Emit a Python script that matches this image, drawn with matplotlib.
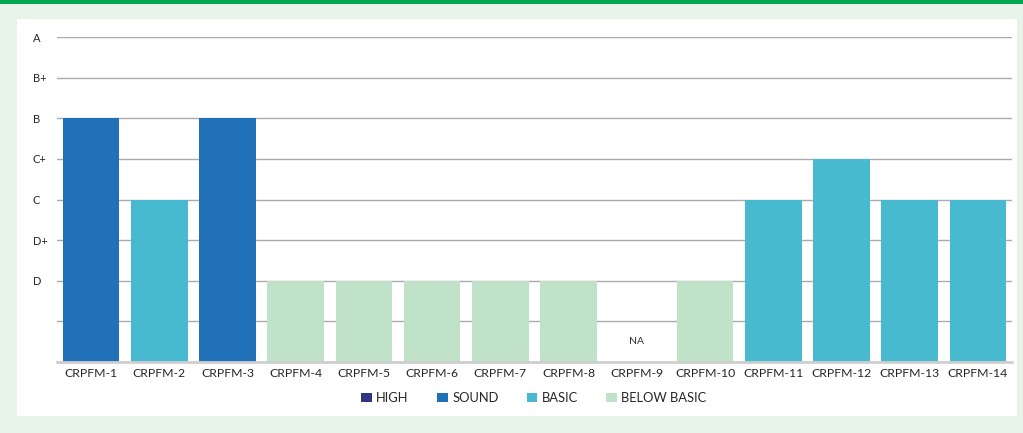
import matplotlib
matplotlib.use("Agg")
import matplotlib.pyplot as plt
from matplotlib.patches import Rectangle, Patch

plt.rcParams['font.family'] = ['Lato', 'DejaVu Sans']

categories = ["CRPFM-1", "CRPFM-2", "CRPFM-3", "CRPFM-4", "CRPFM-5", "CRPFM-6", "CRPFM-7",
              "CRPFM-8", "CRPFM-9", "CRPFM-10", "CRPFM-11", "CRPFM-12", "CRPFM-13", "CRPFM-14"]
# grade levels: 2=D, 3=D+, 4=C, 5=C+, 6=B, 7=B+, 8=A ; None = not available
scores = [6, 4, 6, 2, 2, 2, 2, 2, None, 2, 4, 5, 4, 4]
ratings = ["SOUND", "BASIC", "SOUND", "BELOW BASIC", "BELOW BASIC", "BELOW BASIC", "BELOW BASIC",
           "BELOW BASIC", None, "BELOW BASIC", "BASIC", "BASIC", "BASIC", "BASIC"]
grade_ticks = [0, 1, 2, 3, 4, 5, 6, 7, 8]
grade_labels = ["", "", "D", "D+", "C", "C+", "B", "B+", "A"]
legend_names = ["HIGH", "SOUND", "BASIC", "BELOW BASIC"]
palette = {"HIGH": "#2E3582", "SOUND": "#2171B9", "BASIC": "#47BACF", "BELOW BASIC": "#C0E2C9"}

W, H = 1023, 433
fig = plt.figure(figsize=(W / 100, H / 100), dpi=100, facecolor="#E8F3EA")

# white panel and green header strip
fig.patches.append(Rectangle((17 / W, 1 - 416 / H), 1000 / W, 397 / H,
                             transform=fig.transFigure, facecolor="white", edgecolor="none", zorder=-2))
fig.patches.append(Rectangle((0, 1 - 4 / H), 1, 4 / H,
                             transform=fig.transFigure, facecolor="#00A651", edgecolor="none", zorder=-2))

ax = fig.add_axes([57 / W, 1 - 362 / H, 955 / W, 325 / H])
ax.set_facecolor("none")

x = list(range(len(categories)))
for i, (s, r) in enumerate(zip(scores, ratings)):
    if s is None:
        ax.text(i, 0.5, "NA", ha="center", va="center", fontsize=7.5, color="#333333")
        continue
    ax.bar(i, s, width=0.83, color=palette[r], zorder=2)

ax.set_xlim(-0.5, len(categories) - 0.5)
ax.set_ylim(0, 8)
ax.set_yticks(grade_ticks)
ax.set_yticklabels(grade_labels)
for lbl in ax.get_yticklabels():
    lbl.set_horizontalalignment("left")
ax.tick_params(axis="y", length=0, pad=17.5, labelsize=8, labelcolor="#262626")
ax.set_xticks(x)
ax.set_xticklabels(categories)
ax.tick_params(axis="x", length=0, pad=4, labelsize=8.8, labelcolor="#262626")

ax.grid(axis="y", color="#ABABAB", linewidth=1.0, zorder=0)
ax.set_axisbelow(True)
for sp in ["top", "right", "left"]:
    ax.spines[sp].set_visible(False)
ax.spines["bottom"].set_color("#CFCFCF")
ax.spines["bottom"].set_linewidth(2)
ax.spines["bottom"].set_zorder(3)

handles = [Patch(facecolor=palette[n], edgecolor="none") for n in legend_names]
fig.legend(handles, legend_names, loc="center", bbox_to_anchor=(534 / W, 1 - 398 / H),
           ncol=4, frameon=False, fontsize=9.3, handlelength=0.8, handleheight=0.8,
           handletextpad=0.35, columnspacing=2.2, labelcolor="#262626")

fig.savefig("out.png", dpi=100, facecolor=fig.get_facecolor())
